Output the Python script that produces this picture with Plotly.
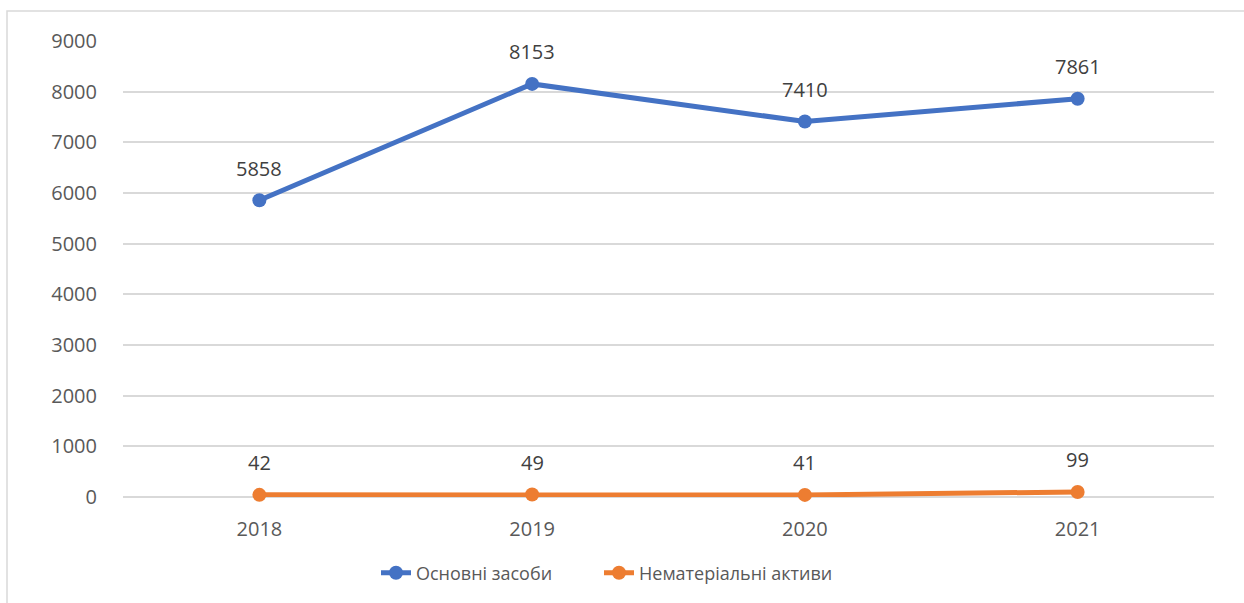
import plotly.graph_objects as go

years = ["2018", "2019", "2020", "2021"]
fixed_assets = [5858, 8153, 7410, 7861]
intangible_assets = [42, 49, 41, 99]
series_names = ["Основні засоби", "Нематеріальні активи"]
y_ticks = [0, 1000, 2000, 3000, 4000, 5000, 6000, 7000, 8000, 9000]

FONT = "Open Sans"
W, H = 1244, 603
ML, MR, MT, MB = 123, 30, 41, 106
PW, PH = W - ML - MR, H - MT - MB


def px_x(p):
    return (p - ML) / PW


def px_y(p):
    return (H - MB - p) / PH


fig = go.Figure()
colors = ["#4472C4", "#ED7D31"]
legend_ids = ["legend", "legend2"]
for name, vals, col, lg in zip(series_names, [fixed_assets, intangible_assets], colors, legend_ids):
    fig.add_trace(go.Scatter(
        x=years, y=vals, name=name, mode="lines+markers",
        line=dict(color=col, width=5),
        marker=dict(color=col, size=14),
        cliponaxis=False, legend=lg,
    ))
    for i, yv in enumerate(vals):
        fig.add_annotation(x=i, y=yv, xref="x", yref="y", text=str(yv), showarrow=False,
                           yshift=32, font=dict(family=FONT, size=20, color="#404040"))

fig.add_shape(type="rect", xref="paper", yref="paper",
              x0=px_x(7), x1=px_x(1260), y0=px_y(620), y1=px_y(11),
              line=dict(color="#D9D9D9", width=1.5), fillcolor="rgba(0,0,0,0)", layer="below")

legend_common = dict(orientation="h", xanchor="left", y=px_y(573), yanchor="middle",
                     font=dict(family=FONT, size=18, color="#595959"),
                     bgcolor="rgba(0,0,0,0)")

fig.update_layout(
    width=W, height=H,
    margin=dict(l=ML, r=MR, t=MT, b=MB),
    paper_bgcolor="white", plot_bgcolor="white",
    font=dict(family=FONT, size=20, color="#595959"),
    showlegend=True,
    legend=dict(x=px_x(376), **legend_common),
    legend2=dict(x=px_x(599), **legend_common),
    xaxis=dict(type="category", range=[-0.5, 3.5], showgrid=False, zeroline=False,
               showline=False, ticks="", ticklabelstandoff=18,
               tickfont=dict(family=FONT, size=20, color="#595959")),
    yaxis=dict(range=[0, 9000], tickvals=y_ticks, showgrid=True, gridcolor="#D9D9D9",
               gridwidth=1.5, zeroline=True, zerolinecolor="#D9D9D9", zerolinewidth=1.5,
               showline=False, ticks="", ticklabelstandoff=25,
               tickfont=dict(family=FONT, size=20, color="#595959")),
)

fig.write_html("out.html", config={"displayModeBar": False},
               post_script="document.body.style.margin='0';")
